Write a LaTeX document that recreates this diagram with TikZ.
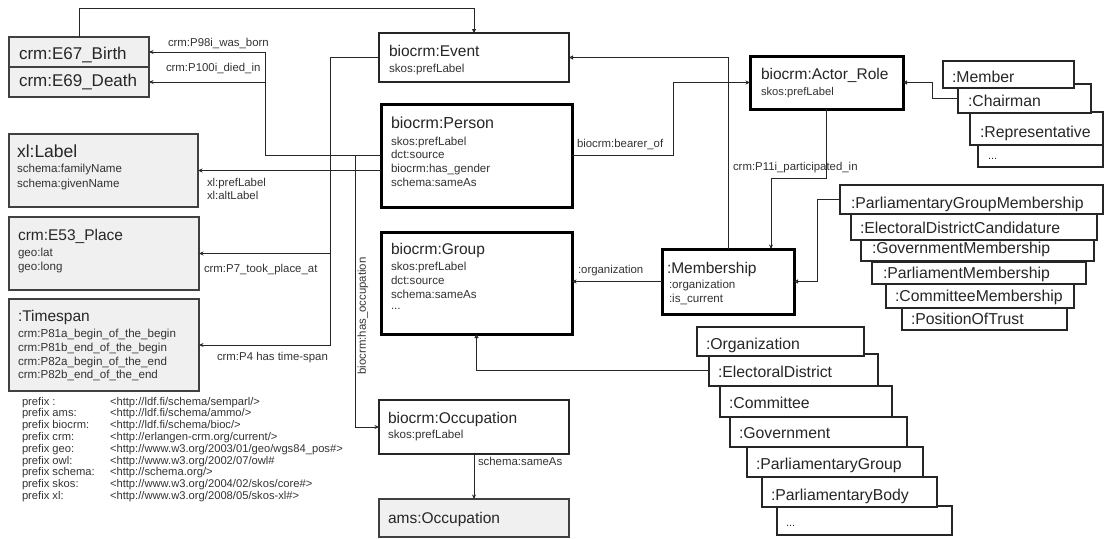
\documentclass[tikz,border=0pt]{standalone}
\usepackage{fontspec}
\setmainfont{Liberation Sans}
\usetikzlibrary{arrows.meta}
\newcommand{\bx}[6]{\node[#1, minimum width={#4-#2}, minimum height={#5-#3}] (#6) at (#2,#3) {};}
\begin{document}
\begin{tikzpicture}[x=1pt,y=-1pt,
  every node/.style={inner sep=0pt, outer sep=0pt},
  ttl/.style={anchor=mid west, font=\fontsize{15.5}{18}\selectfont, text=black!85},
  att/.style={anchor=mid west, font=\fontsize{11.6}{14}\selectfont, text=black!80},
  elab/.style={anchor=mid west, font=\fontsize{11.4}{13}\selectfont, text=black!80},
  stl/.style={anchor=mid west, font=\fontsize{15.8}{18}\selectfont, text=black!85},
  gbox/.style={rectangle, draw=black!75, fill=black!6, line width=1.1pt, anchor=north west},
  mbox/.style={rectangle, draw=black!85, fill=white, line width=2pt, anchor=north west},
  kbox/.style={rectangle, draw=black, fill=white, line width=3pt, anchor=north west},
  sbox/.style={rectangle, draw=black!85, fill=white, line width=1.6pt, anchor=north west},
  conn/.style={draw=black!85, line width=1pt},
  arr/.style={conn, -{Stealth[length=4.5pt,width=4pt]}},
  oarr/.style={conn, -{Triangle[open,length=4pt,width=4pt]}},
]
\useasboundingbox (0,0) rectangle (1105,538);

% ---------- left boxes
\bx{gbox}{9}{37}{149}{67}{birth}
\bx{gbox}{9}{67}{149}{97}{death}
\node[ttl, font=\fontsize{17}{20}\selectfont] (tbirth) at (19,57) {crm:E67\_Birth};
\node[ttl, font=\fontsize{17}{20}\selectfont] (tdeath) at (19,84) {crm:E69\_Death};

\bx{gbox}{9}{134}{198}{207}{lab}
\node[ttl, font=\fontsize{17.5}{20}\selectfont] (tlab) at (17,155) {xl:Label};
\node[att] (tlab1) at (17,170) {schema:familyName};
\node[att] (tlab2) at (17,185) {schema:givenName};

\bx{gbox}{9}{217}{199}{290}{pl}
\node[ttl] (tpl) at (18,237.5) {crm:E53\_Place};
\node[att] (tpl1) at (18,254) {geo:lat};
\node[att] (tpl2) at (18,268) {geo:long};

\bx{gbox}{9}{299}{199}{391}{ts}
\node[ttl] (tts) at (18,318.5) {:Timespan};
\node[att] (tts1) at (18,335) {crm:P81a\_begin\_of\_the\_begin};
\node[att] (tts2) at (18,349) {crm:P81b\_end\_of\_the\_begin};
\node[att] (tts3) at (18,363) {crm:P82a\_begin\_of\_the\_end};
\node[att] (tts4) at (18,376) {crm:P82b\_end\_of\_the\_end};

% ---------- prefixes
\node[anchor=north west, align=left, font=\fontsize{11.2}{11.8}\selectfont, text=black!80] (pfxa) at (22,397)
 {prefix :\\prefix ams:\\prefix biocrm:\\prefix crm:\\prefix geo:\\prefix owl:\\prefix schema:\\prefix skos:\\prefix xl:};
\node[anchor=north west, align=left, font=\fontsize{11.2}{11.8}\selectfont, text=black!80] (pfxb) at (110,397)
 {<http://ldf.fi/schema/semparl/>\\<http://ldf.fi/schema/ammo/>\\<http://ldf.fi/schema/bioc/>\\<http://erlangen-crm.org/current/>\\<http://www.w3.org/2003/01/geo/wgs84\_pos\#>\\<http://www.w3.org/2002/07/owl\#\\<http://schema.org/>\\<http://www.w3.org/2004/02/skos/core\#>\\<http://www.w3.org/2008/05/skos-xl\#>};

% ---------- middle boxes
\bx{mbox}{379}{33}{569}{82}{ev}
\node[ttl] (tev) at (389,54) {biocrm:Event};
\node[att] (tev1) at (389,70) {skos:prefLabel};

\bx{kbox}{381}{104}{572}{207}{per}
\node[ttl, font=\fontsize{16}{19}\selectfont] (tper) at (391,126) {biocrm:Person};
\node[att] (tper1) at (391,142.5) {skos:prefLabel};
\node[att] (tper2) at (391,156) {dct:source};
\node[att] (tper3) at (391,169.5) {biocrm:has\_gender};
\node[att] (tper4) at (391,183.5) {schema:sameAs};

\bx{kbox}{381}{232}{572}{334}{grp}
\node[ttl] (tgrp) at (391,252) {biocrm:Group};
\node[att] (tgrp1) at (391,268) {skos:prefLabel};
\node[att] (tgrp2) at (391,282) {dct:source};
\node[att] (tgrp3) at (391,296) {schema:sameAs};
\node[att] (tgrp4) at (391,307) {...};

\bx{mbox}{379}{400}{569}{454}{occ}
\node[ttl] (tocc) at (388,420.5) {biocrm:Occupation};
\node[att] (tocc1) at (388,436) {skos:prefLabel};

\bx{gbox}{379}{499}{569}{537}{ams}
\node[ttl] (tams) at (388,520.5) {ams:Occupation};

% ---------- right main boxes
\bx{kbox}{750}{56}{903}{109}{ar}
\node[ttl] (tar) at (761,76.5) {biocrm:Actor\_Role};
\node[att, font=\fontsize{11.2}{13}\selectfont] (tar1) at (761,93) {skos:prefLabel};

\bx{kbox}{662}{249}{794}{314}{mem}
\node[ttl] (tmem) at (667,270.5) {:Membership};
\node[att] (tmem1) at (669,286) {:organization};
\node[att] (tmem2) at (669,300) {:is\_current};

% ---------- role stack
\bx{sbox}{978}{145}{1103}{167}{rdots}
\bx{sbox}{970}{112}{1103}{145}{rep}
\bx{sbox}{958}{84}{1091}{113}{cha}
\bx{sbox}{943}{61}{1074}{88}{memb}
\node[stl] (tmemb) at (952,80) {:Member};
\node[stl] (tcha) at (968,103.5) {:Chairman};
\node[stl] (trep) at (980,134.5) {:Representative};
\node[stl, font=\fontsize{11}{13}\selectfont] (trdots) at (988,157) {...};

% ---------- membership stack
\bx{sbox}{902}{308}{1067}{330}{pot}
\bx{sbox}{886}{284}{1074}{308}{cmm}
\bx{sbox}{872}{262}{1086}{284}{pm}
\bx{sbox}{861}{240}{1094}{261}{gm}
\bx{sbox}{851}{212}{1097}{240}{edc}
\bx{sbox}{840}{185}{1103}{214}{pgm}
\node[stl] (tpgm) at (851,205.5) {:ParliamentaryGroupMembership};
\node[stl] (tedc) at (860,230.5) {:ElectoralDistrictCandidature};
\node[stl] (tgm) at (872,250.5) {:GovernmentMembership};
\node[stl] (tpm) at (883,275.5) {:ParliamentMembership};
\node[stl] (tcmm) at (895,298.5) {:CommitteeMembership};
\node[stl] (tpot) at (911,321.5) {:PositionOfTrust};

% ---------- organization stack
\bx{sbox}{777}{506}{952}{535}{odots}
\bx{sbox}{762}{477}{937}{507}{pb}
\bx{sbox}{747}{447}{923}{477}{pg}
\bx{sbox}{730}{417}{907}{447}{gov}
\bx{sbox}{720}{386}{892}{417}{com}
\bx{sbox}{709}{354}{878}{386}{ed}
\bx{sbox}{697}{327}{864}{356}{org}
\node[stl] (torg) at (706,346.5) {:Organization};
\node[stl] (ted) at (718,374.5) {:ElectoralDistrict};
\node[stl] (tcom) at (729,405.5) {:Committee};
\node[stl] (tgov) at (739,435.5) {:Government};
\node[stl] (tpg) at (756,466.5) {:ParliamentaryGroup};
\node[stl] (tpb) at (771,497.5) {:ParliamentaryBody};
\node[stl, font=\fontsize{11}{13}\selectfont] (todots) at (786,524) {...};

% ---------- connectors
\coordinate (k1) at (265,0);
\draw[arr] (per.west) -| (k1 |- birth.east) -- (birth.east);
\draw[arr] (k1 |- death.east) -- (death.east);
\draw[arr] (per.west |- lab.east) -- (lab.east);
\coordinate (k2) at (330,0);
\draw[arr] (ev.west) -| (k2 |- pl.east) -- (pl.east);
\draw[arr] (k2 |- pl.east) -- (k2 |- ts.east) -- (ts.east);
\coordinate (k3) at (355,155.5);
\draw[arr] (k3) |- (occ.west);
\coordinate (k4) at (673,0);
\draw[arr] (per.east) -| (k4 |- ar.west) -- (ar.west);
\draw[oarr] (mem.north) |- (ev.east);
\coordinate (k5) at (771,178);
\draw[arr] (ar.south) |- (k5) -- (k5 |- mem.north);
\draw[arr] (mem.west) -- (mem.west -| grp.east);
\draw[oarr] (ed.west) -| (grp.south);
\coordinate (k6) at (817,0);
\draw[oarr] (pgm.west) -| (k6 |- mem.east) -- (mem.east);
\coordinate (k7) at (932,0);
\draw[oarr] (cha.west) -| (k7 |- ar.east) -- (ar.east);
\coordinate (k8) at (0,8);
\draw[oarr] (birth.north) -- (birth.north |- k8) -| (ev.north);
\draw[arr] (occ.south) -- (ams.north);

% ---------- connector labels
\node[elab] (l1) at (168,43.5) {crm:P98i\_was\_born};
\node[elab] (l2) at (166,68.5) {crm:P100i\_died\_in};
\node[elab] (l3) at (207,184) {xl:prefLabel};
\node[elab] (l4) at (207,197) {xl:altLabel};
\node[elab] (l5) at (204,270) {crm:P7\_took\_place\_at};
\node[elab] (l6) at (217,358) {crm:P4 has time-span};
\node[elab, anchor=center, rotate=90] (l7) at (363,316) {biocrm:has\_occupation};
\node[elab] (l8) at (577,145) {biocrm:bearer\_of};
\node[elab] (l9) at (578,271) {:organization};
\node[elab] (l10) at (733,168) {crm:P11i\_participated\_in};
\node[elab] (l11) at (478,463) {schema:sameAs};
\end{tikzpicture}
\end{document}
